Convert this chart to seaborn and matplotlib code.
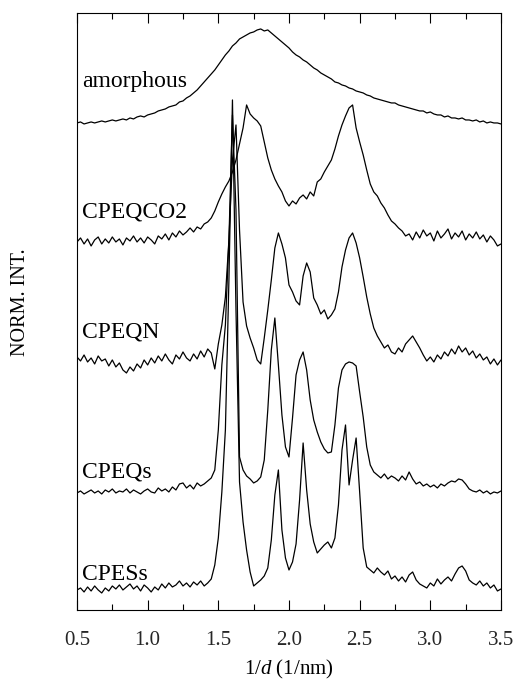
import numpy as np
import pandas as pd
import matplotlib
matplotlib.use('Agg')
import matplotlib.pyplot as plt
import seaborn as sns

sns.set_theme(style='ticks')
plt.rcParams['font.family'] = ['Liberation Serif', 'DejaVu Serif']
plt.rcParams['mathtext.fontset'] = 'custom'
plt.rcParams['mathtext.rm'] = 'Liberation Serif'
plt.rcParams['mathtext.it'] = 'Liberation Serif:italic'

# 1/d grid (1/nm), 0.025 steps from 0.5 to 3.5
inv_d = np.round(np.arange(0.5, 3.5 + 1e-9, 0.025), 3)

# stacked, normalised intensities (arbitrary units, offsets included)
amorphous = [
    487, 488, 486, 487, 488, 487, 488, 489, 488, 489,
    490, 489, 490, 491, 490, 492, 491, 493, 494, 493,
    495, 496, 497, 499, 500, 501, 503, 504, 505, 508,
    509, 512, 514, 517, 520, 524, 528, 532, 536, 540,
    545, 550, 555, 559, 564, 567, 571, 573, 575, 577,
    578, 580, 581, 579, 580, 577, 574, 571, 568, 565,
    562, 558, 555, 553, 550, 548, 545, 542, 540, 537,
    535, 533, 531, 528, 527, 525, 524, 522, 521, 519,
    518, 517, 515, 514, 512, 511, 510, 509, 508, 507,
    507, 505, 504, 503, 502, 501, 500, 499, 499, 497,
    498, 496, 495, 495, 493, 494, 492, 492, 491, 492,
    490, 490, 489, 490, 488, 489, 487, 488, 487, 487,
    486,
]
cpeqco2 = [
    368, 372, 366, 371, 364, 370, 373, 366, 371, 367,
    373, 368, 371, 365, 372, 369, 374, 368, 372, 367,
    373, 370, 366, 374, 371, 376, 370, 377, 373, 379,
    375, 378, 382, 378, 383, 381, 386, 388, 392, 399,
    408, 416, 423, 429, 438, 450, 466, 482, 505, 496,
    492, 489, 484, 468, 452, 440, 431, 424, 418, 409,
    404, 409, 406, 412, 415, 411, 418, 414, 428, 431,
    438, 444, 450, 461, 474, 485, 494, 502, 505, 482,
    468, 455, 440, 426, 418, 414, 407, 402, 395, 389,
    386, 382, 379, 374, 376, 370, 378, 372, 380, 374,
    377, 369, 379, 372, 376, 381, 371, 377, 373, 379,
    370, 376, 372, 378, 371, 375, 368, 374, 370, 364,
    366,
]
cpeqn = [
    253, 249, 255, 248, 252, 246, 254, 249, 251, 244,
    250, 243, 247, 240, 237, 243, 239, 246, 242, 250,
    245, 252, 247, 254, 249, 256, 250, 246, 255, 251,
    258, 252, 249, 256, 251, 259, 253, 261, 257, 241,
    266, 285, 313, 370, 450, 485, 380, 308, 284, 272,
    262, 250, 246, 272, 300, 330, 362, 377, 366, 352,
    325, 318, 309, 305, 334, 347, 338, 312, 305, 296,
    300, 291, 295, 301, 318, 343, 360, 372, 377, 367,
    352, 333, 313, 296, 282, 274, 268, 262, 265, 258,
    256, 262, 258, 266, 270, 274, 268, 262, 255, 249,
    253, 248, 255, 251, 258, 254, 261, 256, 264, 258,
    262, 255, 259, 252, 256, 250, 253, 246, 251, 245,
    250,
]
cpeqs = [
    117, 119, 116, 118, 120, 117, 119, 116, 120, 118,
    121, 117, 119, 118, 121, 117, 120, 118, 116, 119,
    121, 118, 117, 122, 119, 121, 118, 123, 120, 126,
    127, 122, 125, 121, 127, 124, 126, 129, 132, 140,
    180, 245, 285, 370, 495, 400, 153, 140, 134, 131,
    127, 129, 133, 150, 200, 260, 292, 245, 195, 163,
    153, 192, 235, 250, 258, 240, 210, 190, 178, 168,
    161, 157, 158, 185, 222, 240, 246, 248, 247, 244,
    218, 193, 163, 145, 138, 135, 132, 136, 131, 134,
    132, 129, 134, 130, 138, 131, 126, 128, 124, 126,
    123, 125, 122, 126, 124, 127, 129, 128, 131, 130,
    126, 121, 119, 118, 120, 117, 119, 116, 118, 117,
    119,
]
cpess = [
    20, 22, 18, 23, 19, 24, 20, 17, 22, 19,
    24, 21, 25, 20, 23, 26, 21, 24, 19, 25,
    22, 18, 23, 20, 26, 22, 27, 23, 25, 29,
    24, 27, 23, 28, 25, 29, 24, 27, 31, 45,
    72, 118, 180, 330, 510, 300, 128, 88, 60, 38,
    24, 27, 30, 34, 42, 70, 115, 140, 80, 52,
    40, 48, 66, 110, 167, 120, 86, 68, 57, 61,
    65, 68, 62, 72, 105, 160, 185, 125, 150, 172,
    118, 62, 43, 40, 37, 42, 38, 35, 39, 31,
    34, 29, 33, 28, 35, 38, 30, 26, 24, 22,
    27, 24, 31, 26, 30, 33, 29, 36, 42, 44,
    39, 30, 27, 25, 29, 24, 27, 22, 25, 19,
    21,
]

samples = ['amorphous', 'CPEQCO2', 'CPEQN', 'CPEQs', 'CPESs']
label_y = [528, 398, 278, 138, 35]
series = [amorphous, cpeqco2, cpeqn, cpeqs, cpess]

df = pd.concat([
    pd.DataFrame({'inv_d': inv_d, 'intensity': vals, 'sample': name})
    for name, vals in zip(samples, series)
])

fig = plt.figure(figsize=(5.16, 6.82), dpi=100)
ax = fig.add_axes([0.1492, 0.1056, 0.8217, 0.8754])

for name in samples:
    sub = df[df['sample'] == name]
    sns.lineplot(data=sub, x='inv_d', y='intensity', color='black',
                 linewidth=0.9, estimator=None, sort=False, ax=ax)

for name, ly in zip(samples, label_y):
    ax.text(0.535, ly, name, fontsize=17, ha='left', va='center', color='black')

ax.set_xlim(0.5, 3.5)
ax.set_ylim(0, 597)
ax.set_xticks(np.arange(0.5, 3.51, 0.5))
ax.set_xticks(np.arange(0.75, 3.5, 0.5), minor=True)
ax.set_xticklabels([f'{v:.1f}' for v in np.arange(0.5, 3.51, 0.5)])
ax.set_yticks([])
ax.tick_params(axis='x', which='both', direction='in', top=True, bottom=True,
               labelsize=15, pad=15, color='black', width=0.8)
ax.tick_params(axis='x', which='major', length=7)
ax.tick_params(axis='x', which='minor', length=4)
for sp in ax.spines.values():
    sp.set_visible(True)
    sp.set_color('black')
    sp.set_linewidth(0.8)

ax.set_xlabel(r'1/$\it{d}$ (1/nm)', fontsize=15, color='black')
ax.xaxis.set_label_coords(0.5, -0.08)
ax.set_ylabel('NORM. INT.', fontsize=14.5, color='black')
ax.yaxis.set_label_coords(-0.111, 0.516)

fig.savefig('out.png', dpi=100)
